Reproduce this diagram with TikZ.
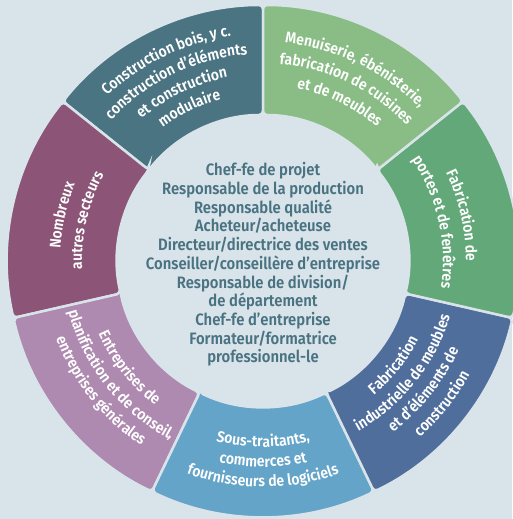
\documentclass[tikz,border=0pt]{standalone}
\usepackage{fontspec}
\setmainfont{Fira Sans}[FakeStretch=0.9, BoldFont={Fira Sans SemiBold}, BoldFeatures={FakeStretch=0.9}]
\usetikzlibrary{decorations.text,calc}
\definecolor{bgc}{HTML}{D9E3EA}
\definecolor{cteal}{HTML}{4A7482}
\definecolor{cpurple}{HTML}{8C5577}
\definecolor{clpurple}{HTML}{AE89B0}
\definecolor{clblue}{HTML}{64A4C8}
\definecolor{cblue}{HTML}{506E9C}
\definecolor{cgreen}{HTML}{62A878}
\definecolor{clgreen}{HTML}{89BD85}
\definecolor{ctext}{HTML}{4A7382}
\newcommand\ringfont{\color{white}\fontsize{15.5}{17}\selectfont\bfseries}
\newcommand\ringseg[3]{%
  \filldraw[fill=#3, draw=bgc, line width=2.5pt, rounded corners=4pt]
    (#1:146pt) -- (#1:256pt) arc[start angle=#1, end angle=#2, radius=256pt]
    -- (#2:146pt) arc[start angle=#2, end angle=#1, radius=146pt] -- cycle;}
\newcommand\uptext[3]{%
  \path[decorate, decoration={text along path, text align=center, text={|\ringfont|#3}}]
    (#1+45:#2pt) arc[start angle=#1+45, end angle=#1-45, radius=#2pt];}
\newcommand\lowtext[3]{%
  \path[decorate, decoration={text along path, text align=center, text={|\ringfont|#3}}]
    (#1-45:#2pt) arc[start angle=#1-45, end angle=#1+45, radius=#2pt];}
\begin{document}
\begin{tikzpicture}[x=1pt,y=1pt]
\fill[bgc] (-263,-258) rectangle (249,261);
\useasboundingbox (-263,-258) rectangle (249,261);
% ring segments
\ringseg{90}{141.4286}{cteal}
\ringseg{141.4286}{192.8571}{cpurple}
\ringseg{192.8571}{244.2857}{clpurple}
\ringseg{244.2857}{295.7143}{clblue}
\ringseg{295.7143}{347.1429}{cblue}
\ringseg{347.1429}{398.5714}{cgreen}
\ringseg{398.5714}{450}{clgreen}
% segment texts
\uptext{115.714}{227}{Construction bois, y c.}
\uptext{115.714}{207}{construction d’éléments}
\uptext{115.714}{187}{et construction}
\uptext{115.714}{167}{modulaire}
\uptext{64.286}{219}{Menuiserie, ébénisterie,}
\uptext{64.286}{197.5}{fabrication de cuisines}
\uptext{64.286}{176}{et de meubles}
\uptext{12.857}{203}{Fabrication de}
\uptext{12.857}{180}{portes et de fenêtres}
\uptext{167.143}{203}{Nombreux}
\uptext{167.143}{181}{autres secteurs}
\lowtext{321.429}{174}{Fabrication}
\lowtext{321.429}{195}{industrielle de meubles}
\lowtext{321.429}{215}{et d’éléments de}
\lowtext{321.429}{236}{construction}
\lowtext{270}{186}{Sous-traitants,}
\lowtext{270}{206}{commerces et}
\lowtext{270}{226}{fournisseurs de logiciels}
\lowtext{218.571}{180}{Entreprises de}
\lowtext{218.571}{201}{planification et de conseil,}
\lowtext{218.571}{221}{entreprises générales}
% center text
\node[align=center, inner sep=0pt, text=ctext, font={\fontsize{16.5}{18.7}\selectfont\bfseries}] (centre) at (0,-3.5)
 {Chef-fe de projet\\Responsable de la production\\Responsable qualité\\Acheteur/acheteuse\\Directeur/directrice des ventes\\Conseiller/conseillère d’entreprise\\Responsable de division/\\de département\\Chef-fe d’entreprise\\Formateur/formatrice\\professionnel-le};
\end{tikzpicture}
\end{document}
